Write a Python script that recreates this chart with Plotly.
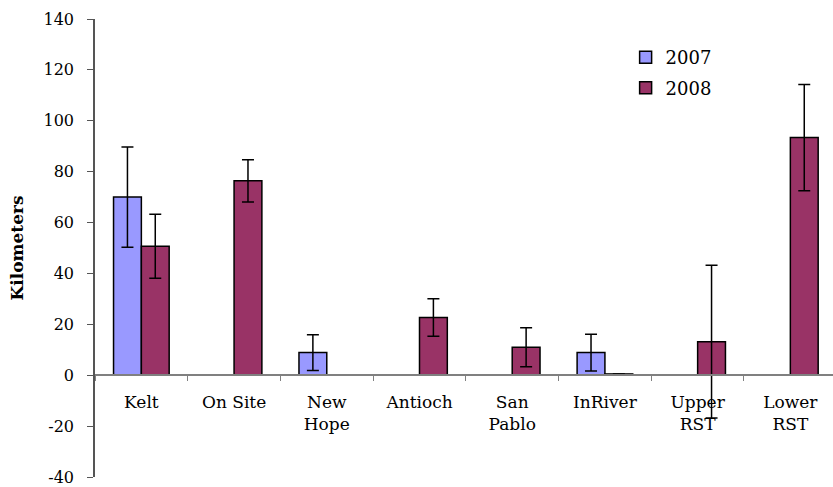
import plotly.graph_objects as go

categories = ["Kelt", "On Site", "New<br>Hope", "Antioch", "San<br>Pablo", "InRiver", "Upper<br>RST", "Lower<br>RST"]
values_2007 = [70.0, None, 8.9, None, None, 8.9, None, None]
errors_2007 = [19.7, None, 7.0, None, None, 7.2, None, None]
values_2008 = [50.7, 76.4, None, 22.7, 11.0, 0.5, 13.2, 93.4]
errors_2008 = [12.6, 8.3, None, 7.4, 7.7, None, 30.0, 20.9]
y_ticks = [-40, -20, 0, 20, 40, 60, 80, 100, 120, 140]
y_tick_labels = ["-40", "-20", "0", "20", "40", "60", "80", "100", "120", "140"]

FONT = "DejaVu Serif"

fig = go.Figure()
fig.add_trace(go.Bar(
    x=categories, y=values_2007, name="2007", legendgroup="a",
    marker=dict(color="#9999FF", line=dict(color="#000000", width=1.5)),
    error_y=dict(type="data", array=errors_2007, symmetric=True,
                 color="#000000", thickness=1.5, width=6),
))
fig.add_trace(go.Bar(
    x=categories, y=values_2008, name="2008", legendgroup="b",
    marker=dict(color="#993366", line=dict(color="#000000", width=1.5)),
    error_y=dict(type="data", array=errors_2008, symmetric=True,
                 color="#000000", thickness=1.5, width=6),
))

fig.update_layout(
    width=833, height=487,
    margin=dict(l=95, r=0, t=19, b=10),
    paper_bgcolor="white", plot_bgcolor="white",
    barmode="group", bargap=0.4, bargroupgap=0,
    font=dict(family=FONT, size=15, color="#000000"),
    showlegend=True,
    legend=dict(x=0.719, y=0.956, xanchor="left", yanchor="top",
                bgcolor="rgba(0,0,0,0)", tracegroupgap=4,
                font=dict(family=FONT, size=18)),
    xaxis=dict(
        range=[-0.5, 7.46], anchor="free", position=40/180,
        showline=True, linecolor="#808080", linewidth=1.5,
        ticks="outside", tickson="boundaries", ticklen=5, tickcolor="#808080",
        tickfont=dict(family=FONT, size=17), showgrid=False, zeroline=False,
        ticklabelstandoff=12,
    ),
    yaxis=dict(
        range=[-40, 140], tickvals=y_ticks, ticktext=y_tick_labels,
        showline=True, linecolor="#555555", linewidth=1.5,
        ticks="outside", ticklen=6, tickcolor="#555555",
        tickfont=dict(family=FONT, size=16), showgrid=False, zeroline=False,
        ticklabelstandoff=10,
        title=dict(text="<b>Kilometers</b>", font=dict(family=FONT, size=17), standoff=16),
    ),
)

fig.write_html("out.html")
